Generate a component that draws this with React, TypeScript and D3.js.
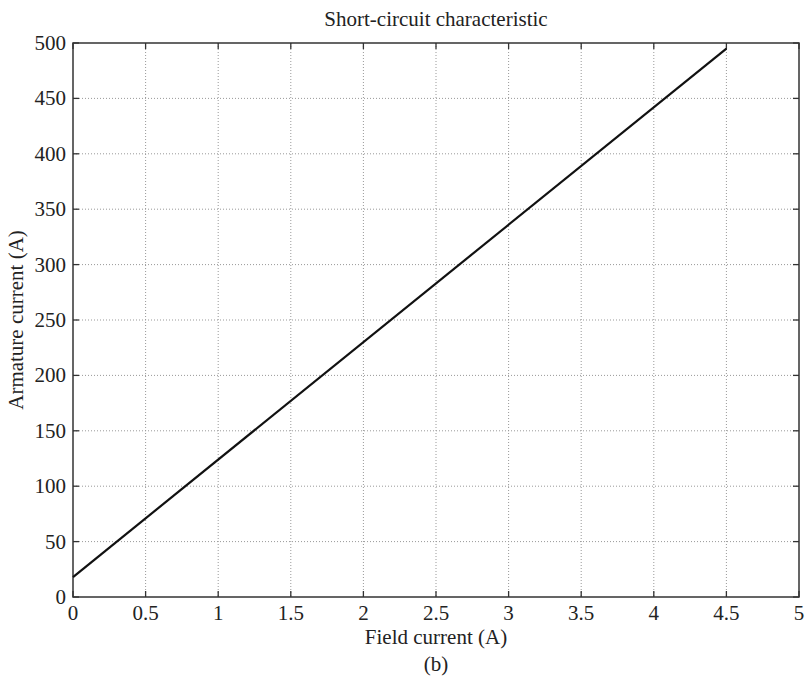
import * as d3 from "d3";

const xTicks = [0, 0.5, 1, 1.5, 2, 2.5, 3, 3.5, 4, 4.5, 5];
const yTicks = [0, 50, 100, 150, 200, 250, 300, 350, 400, 450, 500];
const fieldCurrent = [0, 4.5];
const armatureCurrent = [18, 495];

const W = 805;
const H = 677;
const margin = { top: 43, right: 6, bottom: 80, left: 73 };
const FONT = "'Liberation Serif', 'DejaVu Serif', serif";

export default function App() {
  const innerW = W - margin.left - margin.right;
  const innerH = H - margin.top - margin.bottom;
  const x = d3.scaleLinear().domain([0, 5]).range([0, innerW]);
  const y = d3.scaleLinear().domain([0, 500]).range([innerH, 0]);
  const pts = fieldCurrent.map((f, i) => [f, armatureCurrent[i]] as [number, number]);
  const line = d3
    .line<[number, number]>()
    .x((d) => x(d[0]))
    .y((d) => y(d[1]));
  const tick = 6;

  return (
    <svg
      width={W}
      height={H}
      style={{ position: "absolute", left: 0, top: 0, background: "#fff" }}
    >
      <text
        x={margin.left + innerW / 2}
        y={26}
        textAnchor="middle"
        fontFamily={FONT}
        fontSize={21}
        fill="#222"
      >
        Short-circuit characteristic
      </text>
      <g transform={`translate(${margin.left},${margin.top})`}>
        {/* grid */}
        {xTicks.slice(1, -1).map((t) => (
          <line
            key={"gx" + t}
            x1={x(t)}
            x2={x(t)}
            y1={0}
            y2={innerH}
            stroke="#999"
            strokeWidth={1}
            strokeDasharray="1,2"
          />
        ))}
        {yTicks.slice(1, -1).map((t) => (
          <line
            key={"gy" + t}
            x1={0}
            x2={innerW}
            y1={y(t)}
            y2={y(t)}
            stroke="#999"
            strokeWidth={1}
            strokeDasharray="1,2"
          />
        ))}
        {/* box */}
        <rect
          x={0}
          y={0}
          width={innerW}
          height={innerH}
          fill="none"
          stroke="#333"
          strokeWidth={1.5}
        />
        {/* ticks */}
        {xTicks.map((t) => (
          <g key={"tx" + t}>
            <line x1={x(t)} x2={x(t)} y1={innerH} y2={innerH - tick} stroke="#333" strokeWidth={1.3} />
            <line x1={x(t)} x2={x(t)} y1={0} y2={tick} stroke="#333" strokeWidth={1.3} />
            <text
              x={x(t)}
              y={innerH + 23}
              textAnchor="middle"
              fontFamily={FONT}
              fontSize={21}
              fill="#222"
            >
              {t}
            </text>
          </g>
        ))}
        {yTicks.map((t) => (
          <g key={"ty" + t}>
            <line x1={0} x2={tick} y1={y(t)} y2={y(t)} stroke="#333" strokeWidth={1.3} />
            <line x1={innerW} x2={innerW - tick} y1={y(t)} y2={y(t)} stroke="#333" strokeWidth={1.3} />
            <text
              x={-7}
              y={y(t)}
              dy="0.33em"
              textAnchor="end"
              fontFamily={FONT}
              fontSize={21}
              fill="#222"
            >
              {t}
            </text>
          </g>
        ))}
        {/* data line */}
        <path d={line(pts) ?? ""} fill="none" stroke="#111" strokeWidth={2.2} />
        {/* axis labels */}
        <text
          x={innerW / 2}
          y={innerH + 47}
          textAnchor="middle"
          fontFamily={FONT}
          fontSize={21}
          fill="#222"
        >
          Field current (A)
        </text>
        <text
          x={innerW / 2}
          y={innerH + 74}
          textAnchor="middle"
          fontFamily={FONT}
          fontSize={21}
          fill="#222"
        >
          (b)
        </text>
        <text
          transform={`translate(${-50},${innerH / 2}) rotate(-90)`}
          textAnchor="middle"
          fontFamily={FONT}
          fontSize={21}
          fill="#222"
        >
          Armature current (A)
        </text>
      </g>
    </svg>
  );
}
